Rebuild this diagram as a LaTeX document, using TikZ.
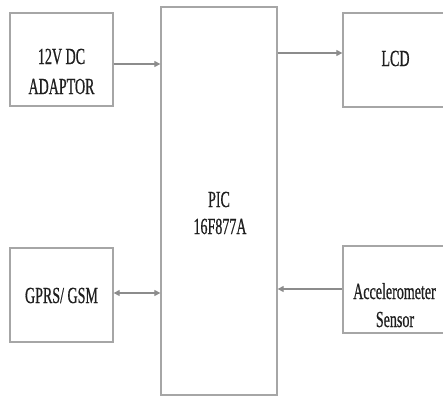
\documentclass[tikz,border=0pt]{standalone}
\usepackage{fontspec}
\setmainfont{Liberation Serif}[FakeStretch=0.61,FakeBold=0.6]
\usetikzlibrary{arrows.meta}
\definecolor{boxgray}{HTML}{A6A6A6}
\definecolor{arrgray}{HTML}{8C8C8C}
\definecolor{txt}{HTML}{1E1E1E}
\tikzset{
  blk/.style={draw=boxgray, line width=1.3pt, rectangle, inner sep=0pt},
  arr/.style={draw=arrgray, line width=1.2pt, -{Triangle[length=6pt,width=6pt]}},
  darr/.style={draw=arrgray, line width=1.2pt, {Triangle[length=6pt,width=6pt]}-{Triangle[length=6pt,width=6pt]}},
  lbl/.style={anchor=base, inner sep=0pt, text=txt, font=\fontsize{23pt}{26pt}\selectfont}
}
\begin{document}
\begin{tikzpicture}[x=1pt,y=-1pt]
\clip (0,0) rectangle (443,396);
\fill[white] (0,0) rectangle (443,396);
% blocks
\node[blk, minimum width=103pt, minimum height=93pt] (adaptor) at (61.5,59.5) {};
\node[blk, minimum width=116pt, minimum height=388pt] (pic) at (219,201) {};
\node[blk, minimum width=110pt, minimum height=94pt] (lcd) at (398,60) {};
\node[blk, minimum width=103pt, minimum height=94pt] (gprs) at (61.5,295) {};
\node[blk, minimum width=110pt, minimum height=87pt] (acc) at (398,289.5) {};
% texts
\node[lbl] (t1) at (61.5,64) {12V DC};
\node[lbl] (t2) at (61.5,94) {ADAPTOR};
\node[lbl] (t3) at (395.5,66) {LCD};
\node[lbl] (t4) at (219,207) {PIC};
\node[lbl] (t5) at (220,234) {16F877A};
\node[lbl] (t6) at (61.5,303) {GPRS/ GSM};
\node[lbl] (t7) at (394.5,299) {Accelerometer};
\node[lbl] (t8) at (395,327) {Sensor};
% connectors
\draw[arr] (adaptor.east |- 0,64) -- (pic.west |- 0,64);
\draw[arr] (pic.east |- 0,53) -- (lcd.west |- 0,53);
\draw[darr] (gprs.east |- 0,293) -- (pic.west |- 0,293);
\draw[arr] (acc.west |- 0,289) -- (pic.east |- 0,289);
\end{tikzpicture}
\end{document}
